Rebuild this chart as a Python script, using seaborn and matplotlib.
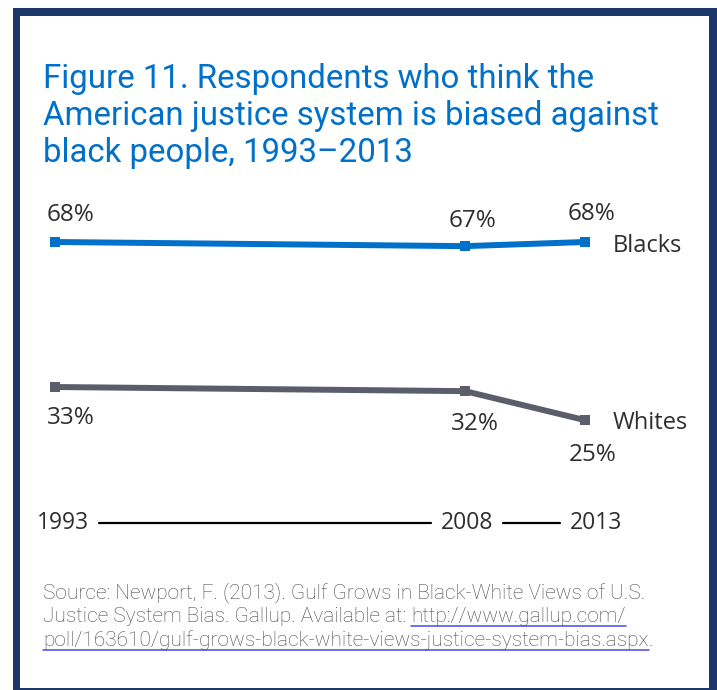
import numpy as np
import pandas as pd
import matplotlib
matplotlib.use("Agg")
import matplotlib.pyplot as plt
import seaborn as sns
from matplotlib.patches import Rectangle
from matplotlib.lines import Line2D

# ---------------- data ----------------
years = [1993, 2008, 2013]
blacks = [68, 67, 68]
whites = [33, 32, 25]
group_names = ["Blacks", "Whites"]
year_labels = ["1993", "2008", "2013"]
title_lines = [
    "Figure 11. Respondents who think the",
    "American justice system is biased against",
    "black people, 1993\u20132013",
]
source_line1 = "Source: Newport, F. (2013). Gulf Grows in Black-White Views of U.S."
source_line2a = "Justice System Bias. Gallup. Available at: "
source_line2b = "http://www.gallup.com/"
source_line3a = "poll/163610/gulf-grows-black-white-views-justice-system-bias.aspx"
source_line3b = "."

# ---------------- style ----------------
W, H = 717, 690
NAVY = "#1E3769"
BLUE = "#0070C9"
GRAY = "#5B5D6B"
TXT = "#2E2E2E"
SRC = "#4A4A4A"
LINK = "#4848E8"

sns.set_theme(style="white")
plt.rcParams["font.family"] = ["Open Sans", "DejaVu Sans"]

fig = plt.figure(figsize=(W / 100, H / 100), dpi=100)
fig.patch.set_facecolor("white")


def fx(px):
    return px / W


def fy(py):
    return 1 - py / H


# frame
fig.patches.append(Rectangle((fx(13), 0), 1, 1 - 8 / H, transform=fig.transFigure,
                             facecolor=NAVY, edgecolor="none", zorder=-3))
fig.patches.append(Rectangle((fx(20), fy(688)), (709 - 20) / W, (688 - 16) / H,
                             transform=fig.transFigure, facecolor="white",
                             edgecolor="none", zorder=-2))

ax = fig.add_axes([0, 0, 1, 1])
ax.patch.set_alpha(0)

# piecewise-linear time scale (as in the original drawing)
S1 = 410 / 15.0
S2 = 120 / 5.0


def fwd(x):
    x = np.asarray(x, dtype=float)
    return np.where(x <= 2008, (x - 1993) * S1, 410 + (x - 2008) * S2)


def inv(p):
    p = np.asarray(p, dtype=float)
    return np.where(p <= 410, 1993 + p / S1, 2008 + (p - 410) / S2)


ax.set_xscale("function", functions=(fwd, inv))

df = pd.DataFrame({
    "year": years * 2,
    "pct": blacks + whites,
    "group": [group_names[0]] * len(years) + [group_names[1]] * len(years),
})
sns.lineplot(data=df, x="year", y="pct", hue="group",
             palette={group_names[0]: BLUE, group_names[1]: GRAY},
             marker="s", markersize=7.5, markeredgewidth=0, linewidth=4.3,
             legend=False, ax=ax)

x0 = float(inv(-55))
x1 = float(inv(W - 55))
ax.set_xlim(x0, x1)
yslope = (387 - 242) / 35.0
ax.set_ylim(68 - (H - 242) / yslope, 68 + 242 / yslope)
ax.axis("off")

# value labels (offsets in pixels from each point)
off_b = [(16, 27), (8, 25), (6.5, 28.5)]
off_w = [(15.5, -31.5), (9.5, -32.5), (8, -35)]
for yr, v, o in zip(years, blacks, off_b):
    ax.annotate(f"{v}%", xy=(yr, v), xytext=o, textcoords="offset pixels",
                ha="center", va="center", fontsize=17.5, color=TXT)
for yr, v, o in zip(years, whites, off_w):
    ax.annotate(f"{v}%", xy=(yr, v), xytext=o, textcoords="offset pixels",
                ha="center", va="center", fontsize=17.5, color=TXT)
ax.annotate(group_names[0], xy=(years[-1], blacks[-1]), xytext=(28, -4),
            textcoords="offset pixels", ha="left", va="center", fontsize=17, color=TXT)
ax.annotate(group_names[1], xy=(years[-1], whites[-1]), xytext=(28, -3),
            textcoords="offset pixels", ha="left", va="center", fontsize=17, color=TXT)

# year axis
year_off = [8, 2, 11]
ylab_objs = []
for yr, lab, o in zip(years, year_labels, year_off):
    t = ax.annotate(lab, xy=(yr, fy(523)), xycoords=ax.get_xaxis_transform(),
                    xytext=(o, 0), textcoords="offset pixels",
                    ha="center", va="center", fontsize=16.5, color=TXT)
    ylab_objs.append(t)

# title
title_base = [88, 125, 162]
for line, b in zip(title_lines, title_base):
    fig.text(fx(43), fy(b), line, ha="left", va="baseline", fontsize=23.8,
             color=BLUE, family=["Roboto", "DejaVu Sans"])

# source
src_kw = dict(ha="left", va="baseline", fontsize=15, color=SRC,
              family=["Roboto", "DejaVu Sans"], fontweight="light")
fig.text(fx(43), fy(598), source_line1, **src_kw)
t2a = fig.text(fx(43), fy(622), source_line2a, **src_kw)
t3a = fig.text(fx(43), fy(646), source_line3a, **src_kw)

fig.canvas.draw()
r = fig.canvas.get_renderer()
e2a = t2a.get_window_extent(r)
t2b = fig.text(e2a.x1 / W, fy(622), source_line2b, **src_kw)
e3a = t3a.get_window_extent(r)
t3b = fig.text(e3a.x1 / W, fy(646), source_line3b, **src_kw)
fig.canvas.draw()
e2b = t2b.get_window_extent(r)
for (xa, xb, yb) in [(e2b.x0, e2b.x1, 622), (e3a.x0, e3a.x1, 646)]:
    fig.lines.append(Line2D([xa / W, xb / W], [fy(yb + 4), fy(yb + 4)],
                            transform=fig.transFigure, color=LINK, linewidth=1.1))

# connecting lines between year labels
gap = 10
exts = [t.get_window_extent(r) for t in ylab_objs]
for a, b in zip(exts[:-1], exts[1:]):
    fig.lines.append(Line2D([(a.x1 + gap) / W, (b.x0 - gap) / W], [fy(523), fy(523)],
                            transform=fig.transFigure, color="black", linewidth=1.6))

fig.savefig("out.png", dpi=100, facecolor="white")
